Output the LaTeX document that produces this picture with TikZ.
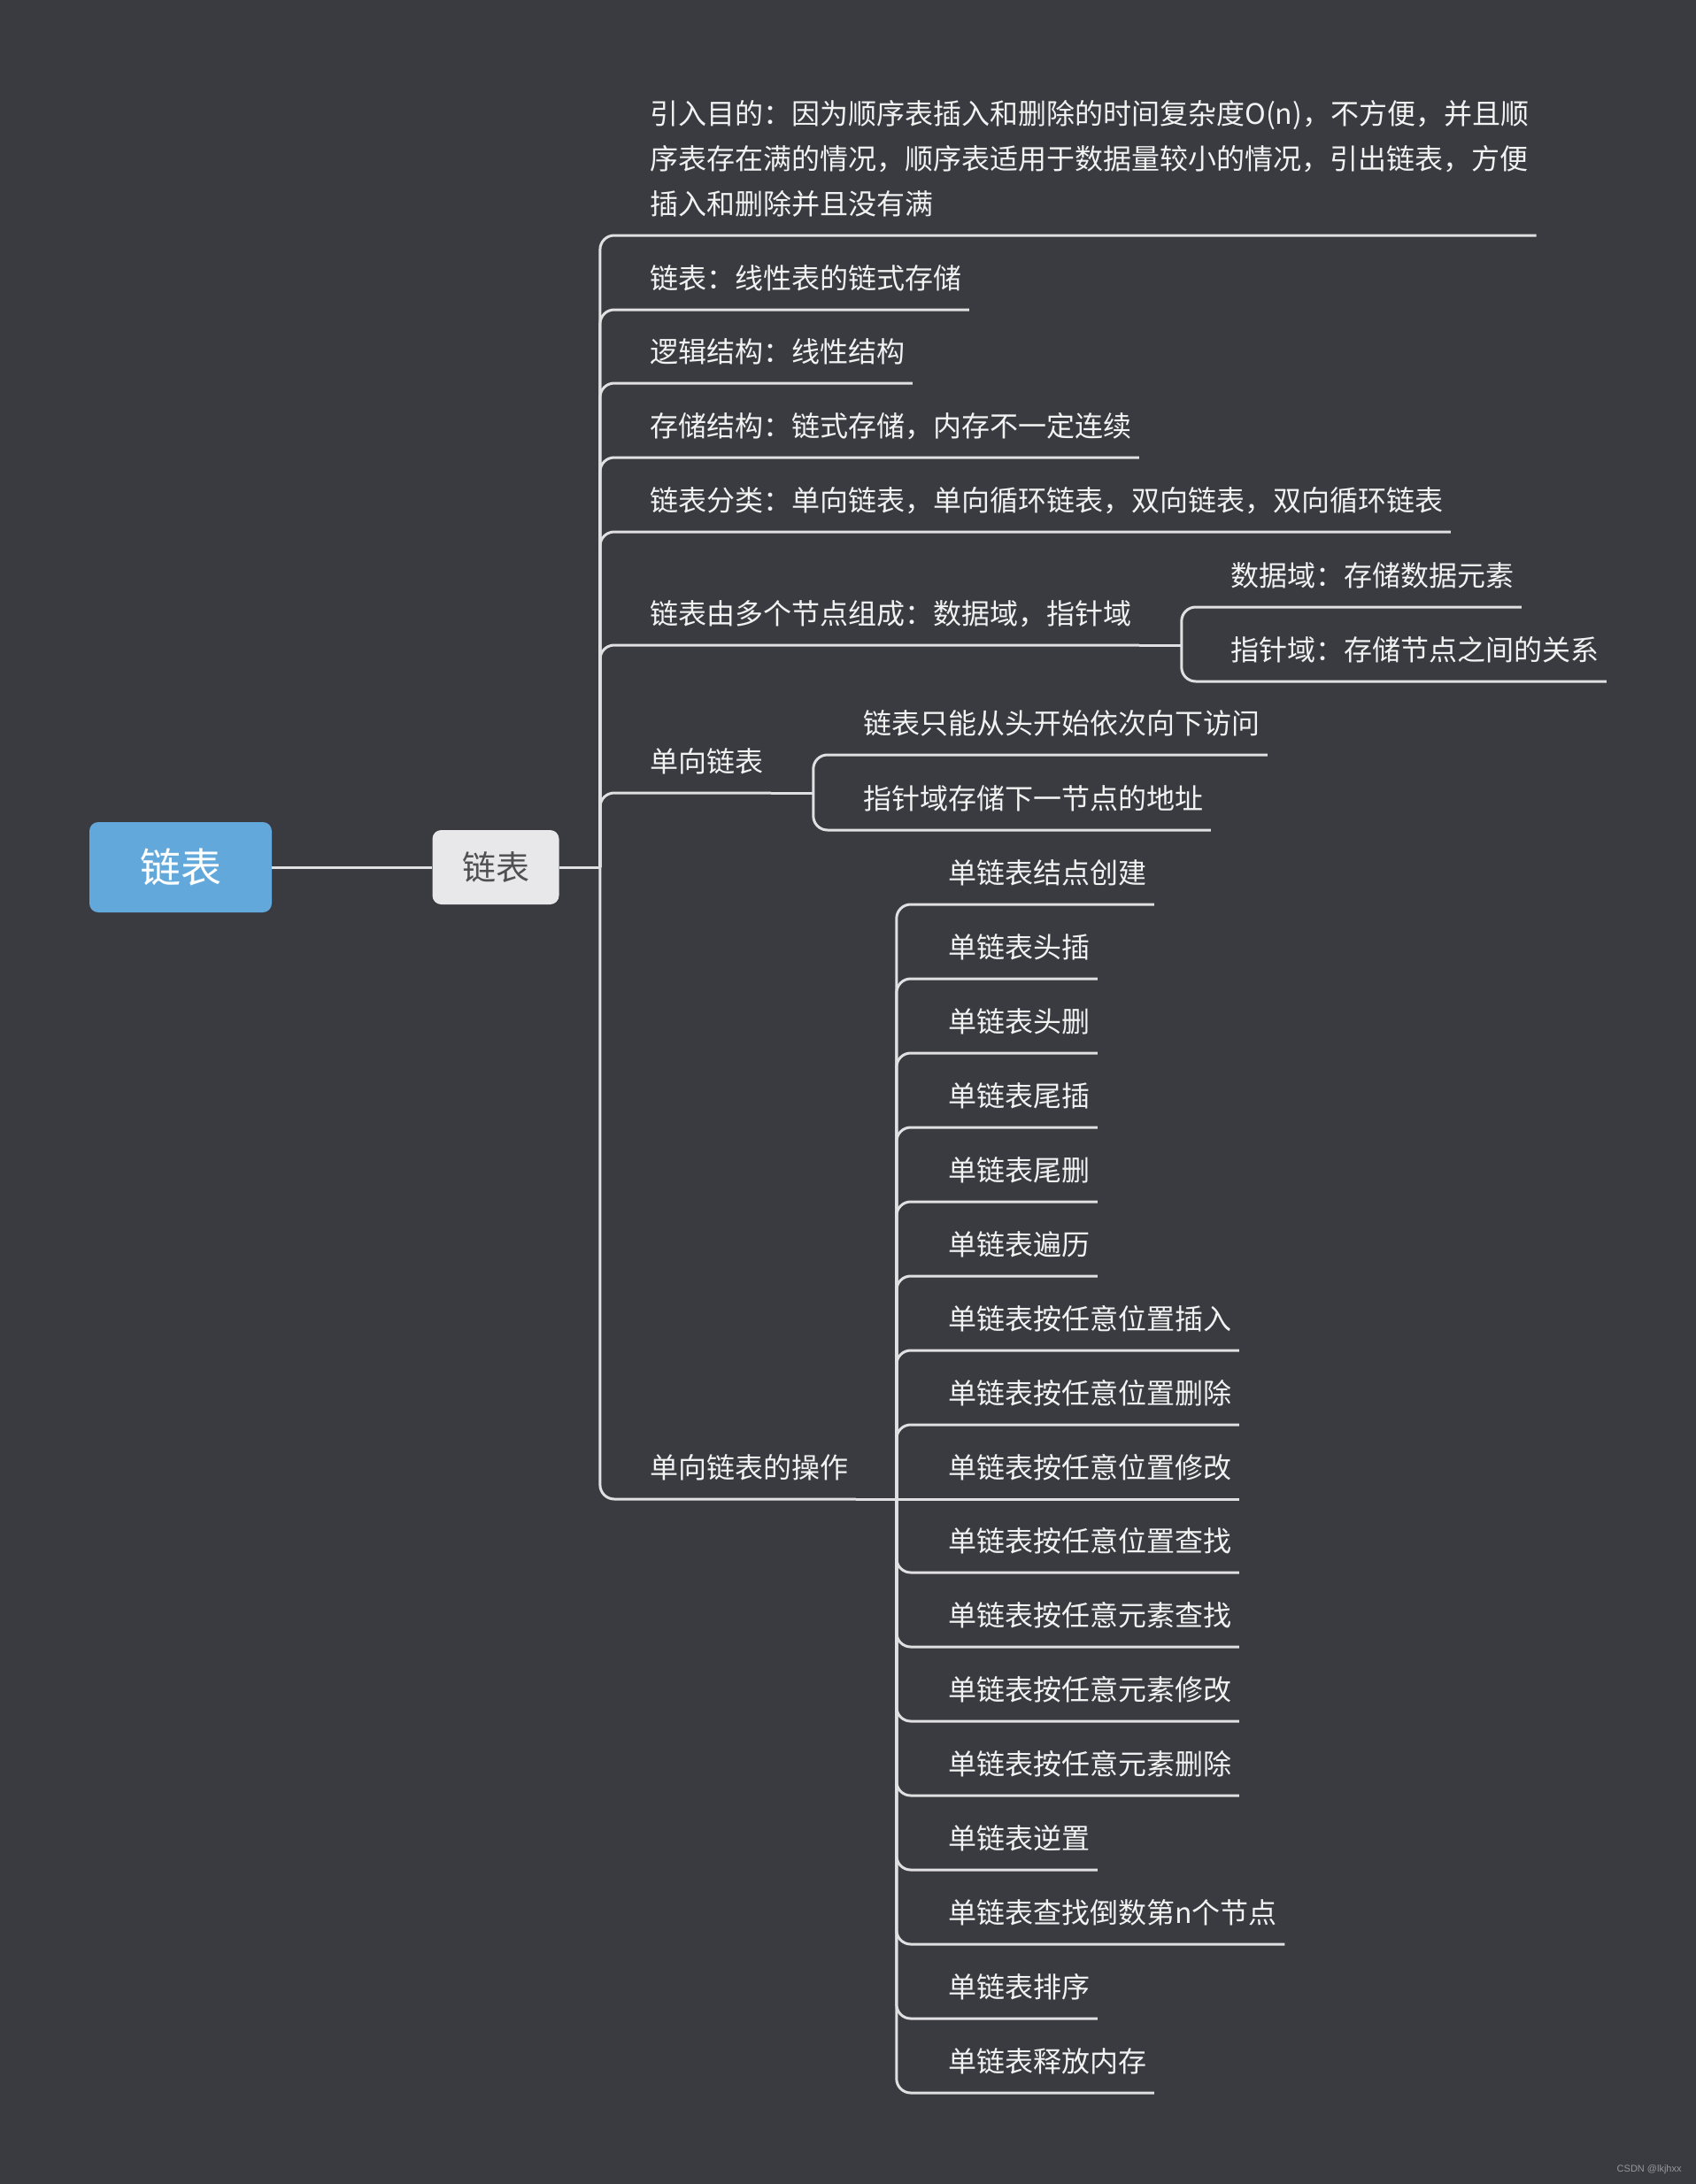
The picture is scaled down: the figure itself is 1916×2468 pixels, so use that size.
\documentclass[tikz,border=0pt]{standalone}
\usepackage{fontspec}
\setmainfont{Noto Sans CJK SC}
\newfontfamily\wmfont{Liberation Sans}
\usepackage{xcolor}
\definecolor{mmBack}{RGB}{58,59,65}
\definecolor{mmLine}{RGB}{224,224,226}
\definecolor{mmText}{RGB}{242,242,242}
\definecolor{mmBlue}{RGB}{99,168,218}
\definecolor{mmPale}{RGB}{232,232,234}
\definecolor{mmGrey}{RGB}{80,80,84}
\definecolor{mmMark}{RGB}{150,150,156}
\usepackage{tikz}
\usetikzlibrary{positioning}

\begin{document}
\begin{tikzpicture}[x=0.5pt,y=-0.5pt,
  leaf/.style={anchor=south west,inner xsep=4pt,inner ysep=0pt,text depth=11.5pt,text=mmText,font=\fontsize{16pt}{25.5pt}\selectfont},
  rootbox/.style={fill=mmBlue,rounded corners=5pt,minimum width=103pt,minimum height=51pt,text=white,font=\fontsize{23pt}{28pt}\selectfont},
  subbox/.style={fill=mmPale,rounded corners=5pt,minimum width=71.5pt,minimum height=42pt,text=mmGrey,font=\fontsize{19pt}{23pt}\selectfont},
  link/.style={draw=mmLine,line width=1.5pt,rounded corners=8pt}]
  \fill[mmBack] (0,0) rectangle (1916,2468);
  \useasboundingbox (0,0) rectangle (1916,2468);
  % centre
  \node[rootbox] (root) at (204,980) {链表};
  \node[subbox] (sub) at (560,980) {链表};
  \coordinate[right=23pt of sub] (j0);
  % first level
  \node[leaf] (c1) at (726,266) {\vbox{\hbox{引入目的：因为顺序表插入和删除的时间复杂度O(n)，不方便，并且顺}\hbox{序表存在满的情况，顺序表适用于数据量较小的情况，引出链表，方便}\hbox{插入和删除并且没有满}}};
  \node[leaf] (c2) at (726,350) {链表：线性表的链式存储};
  \node[leaf] (c3) at (726,433) {逻辑结构：线性结构};
  \node[leaf] (c4) at (726,517) {存储结构：链式存储，内存不一定连续};
  \node[leaf] (c5) at (726,601) {链表分类：单向链表，单向循环链表，双向链表，双向循环链表};
  \node[leaf] (c6) at (726,729) {链表由多个节点组成：数据域，指针域};
  \node[leaf] (c7) at (726,896) {单向链表};
  \node[leaf] (c8) at (726,1694) {单向链表的操作};
  % node parts
  \coordinate (j6) at ([xshift=24pt]c6.south east);
  \node[leaf] (d1) at (1382,686) {数据域：存储数据元素};
  \node[leaf] (d2) at (1382,770) {指针域：存储节点之间的关系};
  % singly linked
  \coordinate (j7) at ([xshift=24pt]c7.south east);
  \node[leaf] (s1) at (967,853) {链表只能从头开始依次向下访问};
  \node[leaf] (s2) at (967,938) {指针域存储下一节点的地址};
  % operations
  \coordinate (j8) at ([xshift=23pt]c8.south east);
  \node[leaf] (o1) at (1063,1022) {单链表结点创建};
  \node[leaf] (o2) at (1063,1106) {单链表头插};
  \node[leaf] (o3) at (1063,1190) {单链表头删};
  \node[leaf] (o4) at (1063,1274) {单链表尾插};
  \node[leaf] (o5) at (1063,1358) {单链表尾删};
  \node[leaf] (o6) at (1063,1442) {单链表遍历};
  \node[leaf] (o7) at (1063,1526) {单链表按任意位置插入};
  \node[leaf] (o8) at (1063,1610) {单链表按任意位置删除};
  \node[leaf] (o9) at (1063,1694) {单链表按任意位置修改};
  \node[leaf] (o10) at (1063,1777) {单链表按任意位置查找};
  \node[leaf] (o11) at (1063,1861) {单链表按任意元素查找};
  \node[leaf] (o12) at (1063,1945) {单链表按任意元素修改};
  \node[leaf] (o13) at (1063,2029) {单链表按任意元素删除};
  \node[leaf] (o14) at (1063,2113) {单链表逆置};
  \node[leaf] (o15) at (1063,2197) {单链表查找倒数第n个节点};
  \node[leaf] (o16) at (1063,2281) {单链表排序};
  \node[leaf] (o17) at (1063,2365) {单链表释放内存};
  \node[font=\wmfont\fontsize{5.5pt}{6pt}\selectfont,text=mmMark,anchor=east,inner sep=0pt] (wm) at (1900,2452) {CSDN @lkjhxx};
  % links
  \draw[link] (root) -- (sub);
  \draw[link] (sub) -- (j0);
  \draw[link] (j0) |- (c1.south east);
  \draw[link] (j0) |- (c2.south east);
  \draw[link] (j0) |- (c3.south east);
  \draw[link] (j0) |- (c4.south east);
  \draw[link] (j0) |- (c5.south east);
  \draw[link] (j0) |- (c6.south east);
  \draw[link] (j0) |- (c7.south east);
  \draw[link] (j0) |- (c8.south east);
  \draw[link] (c6.south east) -- (j6);
  \draw[link] (j6) |- (d1.south east);
  \draw[link] (j6) |- (d2.south east);
  \draw[link] (c7.south east) -- (j7);
  \draw[link] (j7) |- (s1.south east);
  \draw[link] (j7) |- (s2.south east);
  \draw[link] (c8.south east) -- (j8);
  \draw[link] (j8) |- (o1.south east);
  \draw[link] (j8) |- (o2.south east);
  \draw[link] (j8) |- (o3.south east);
  \draw[link] (j8) |- (o4.south east);
  \draw[link] (j8) |- (o5.south east);
  \draw[link] (j8) |- (o6.south east);
  \draw[link] (j8) |- (o7.south east);
  \draw[link] (j8) |- (o8.south east);
  \draw[link] (j8) -- (o9.south east);
  \draw[link] (j8) |- (o10.south east);
  \draw[link] (j8) |- (o11.south east);
  \draw[link] (j8) |- (o12.south east);
  \draw[link] (j8) |- (o13.south east);
  \draw[link] (j8) |- (o14.south east);
  \draw[link] (j8) |- (o15.south east);
  \draw[link] (j8) |- (o16.south east);
  \draw[link] (j8) |- (o17.south east);
\end{tikzpicture}
\end{document}
